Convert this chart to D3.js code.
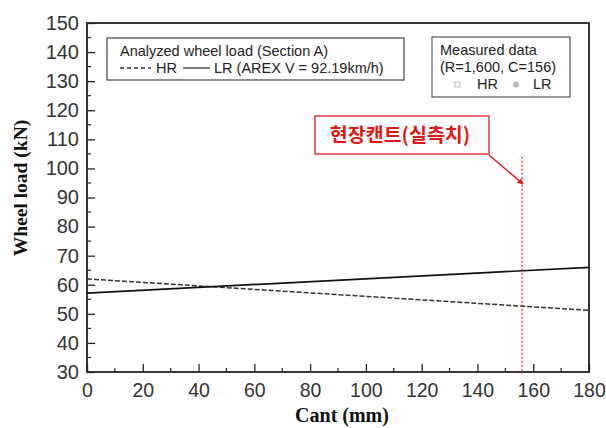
<!DOCTYPE html>
<html>
<head>
<meta charset="utf-8">
<script src="https://cdn.jsdelivr.net/npm/d3@7"></script>
<style>
  body { margin: 0; background: #fff; }
  svg { display: block; }
</style>
</head>
<body>
<div id="chart"></div>
<script>
(function () {
  // 数据
  const cantDomain = [0, 180];
  const loadDomain = [30, 150];
  const xTicks = [0, 20, 40, 60, 80, 100, 120, 140, 160, 180];
  const yTicks = [30, 40, 50, 60, 70, 80, 90, 100, 110, 120, 130, 140, 150];
  const hrCant = [0, 180];
  const hrLoad = [62, 51.2];
  const lrCant = [0, 180];
  const lrLoad = [57.1, 66];
  const fieldCant = 156;

  const width = 606;
  const height = 428;
  const margin = { left: 87, right: 17, top: 23, bottom: 56 };

  const svg = d3.select("#chart")
    .append("svg")
    .attr("width", width)
    .attr("height", height);

  const x = d3.scaleLinear().domain(cantDomain).range([margin.left, width - margin.right]);
  const y = d3.scaleLinear().domain(loadDomain).range([height - margin.bottom, margin.top]);

  const sans = "Liberation Sans, Arial, sans-serif";
  const serif = "Liberation Serif, Times New Roman, serif";

  // 次刻度
  const xMinor = d3.range(10, 180, 20);
  const yMinor = d3.range(35, 150, 10);

  const xAxis = svg.append("g")
    .attr("transform", `translate(0,${y(30)})`)
    .call(d3.axisBottom(x).tickValues(xTicks).tickSizeInner(-8).tickSizeOuter(0).tickPadding(11));
  xAxis.select(".domain").remove();
  xAxis.selectAll("text").style("font-size", "19.5px").style("font-family", sans).style("fill", "#333");
  xAxis.selectAll("line").attr("stroke", "#222").attr("stroke-width", 1.3);

  const yAxis = svg.append("g")
    .attr("transform", `translate(${x(0)},0)`)
    .call(d3.axisLeft(y).tickValues(yTicks).tickSizeInner(-8).tickSizeOuter(0).tickPadding(8));
  yAxis.select(".domain").remove();
  yAxis.selectAll("text").style("font-size", "20px").style("font-family", sans).style("fill", "#333");
  yAxis.selectAll("line").attr("stroke", "#222").attr("stroke-width", 1.3);

  svg.append("g").selectAll("line")
    .data(xMinor).enter().append("line")
    .attr("x1", d => x(d)).attr("x2", d => x(d))
    .attr("y1", y(30)).attr("y2", y(30) - 4)
    .attr("stroke", "#222").attr("stroke-width", 1.2);

  svg.append("g").selectAll("line")
    .data(yMinor).enter().append("line")
    .attr("x1", x(0)).attr("x2", x(0) + 4)
    .attr("y1", d => y(d)).attr("y2", d => y(d))
    .attr("stroke", "#222").attr("stroke-width", 1.2);

  // 边框
  svg.append("rect")
    .attr("x", x(0)).attr("y", y(150))
    .attr("width", x(180) - x(0)).attr("height", y(30) - y(150))
    .attr("fill", "none").attr("stroke", "#222").attr("stroke-width", 1.8);

  const line = d3.line().x(d => x(d[0])).y(d => y(d[1]));

  svg.append("path")
    .datum(d3.zip(hrCant, hrLoad))
    .attr("d", line)
    .attr("fill", "none").attr("stroke", "#333").attr("stroke-width", 1.5)
    .attr("stroke-dasharray", "5,2");

  svg.append("path")
    .datum(d3.zip(lrCant, lrLoad))
    .attr("d", line)
    .attr("fill", "none").attr("stroke", "#111").attr("stroke-width", 1.7);

  // 现场超高线
  svg.append("line")
    .attr("x1", x(fieldCant)).attr("x2", x(fieldCant))
    .attr("y1", y(104)).attr("y2", y(30))
    .attr("stroke", "#e02020").attr("stroke-width", 1.2)
    .attr("stroke-dasharray", "2,2");

  const fs = "14.5px";

  // 图例 1
  svg.append("rect")
    .attr("x", 107).attr("y", 38).attr("width", 297).attr("height", 42)
    .attr("fill", "#fff").attr("stroke", "#444").attr("stroke-width", 1.2);
  svg.append("text")
    .attr("x", 120).attr("y", 56)
    .text("Analyzed wheel load (Section A)")
    .style("font-size", fs).style("font-family", sans).style("fill", "#222");
  svg.append("line")
    .attr("x1", 120).attr("x2", 151).attr("y1", 68).attr("y2", 68)
    .attr("stroke", "#333").attr("stroke-width", 1.3).attr("stroke-dasharray", "4,3");
  svg.append("text")
    .attr("x", 156).attr("y", 73).text("HR")
    .style("font-size", fs).style("font-family", sans).style("fill", "#222");
  svg.append("line")
    .attr("x1", 183).attr("x2", 210).attr("y1", 68).attr("y2", 68)
    .attr("stroke", "#333").attr("stroke-width", 1.3);
  svg.append("text")
    .attr("x", 214).attr("y", 73).text("LR (AREX V = 92.19km/h)")
    .style("font-size", fs).style("font-family", sans).style("fill", "#222");

  // 图例 2
  svg.append("rect")
    .attr("x", 432).attr("y", 37).attr("width", 138).attr("height", 60)
    .attr("fill", "#fff").attr("stroke", "#555").attr("stroke-width", 1.2);
  svg.append("text")
    .attr("x", 440).attr("y", 55).text("Measured data")
    .style("font-size", fs).style("font-family", sans).style("fill", "#222");
  svg.append("text")
    .attr("x", 440).attr("y", 72).text("(R=1,600, C=156)")
    .style("font-size", fs).style("font-family", sans).style("fill", "#222");
  svg.append("rect")
    .attr("x", 455).attr("y", 82).attr("width", 5).attr("height", 5)
    .attr("fill", "#fff").attr("stroke", "#bbb").attr("stroke-width", 1);
  svg.append("text")
    .attr("x", 477).attr("y", 89).text("HR")
    .style("font-size", fs).style("font-family", sans).style("fill", "#222");
  svg.append("circle")
    .attr("cx", 516).attr("cy", 84.5).attr("r", 3)
    .attr("fill", "#bbb");
  svg.append("text")
    .attr("x", 533).attr("y", 89).text("LR")
    .style("font-size", fs).style("font-family", sans).style("fill", "#222");

  // 注释框
  svg.append("rect")
    .attr("x", 315).attr("y", 116).attr("width", 174).attr("height", 38)
    .attr("fill", "#fff").attr("stroke", "#d42020").attr("stroke-width", 1.3);
  svg.append("text")
    .attr("x", 400).attr("y", 142)
    .attr("text-anchor", "middle")
    .text("현장캔트(실측치)")
    .style("font-size", "19.5px").style("font-weight", "bold")
    .style("font-family", "Noto Sans CJK KR, sans-serif").style("fill", "#e01818");

  svg.append("defs").append("marker")
    .attr("id", "arrow")
    .attr("viewBox", "0 0 10 10")
    .attr("refX", 9).attr("refY", 5)
    .attr("markerWidth", 4).attr("markerHeight", 4)
    .attr("orient", "auto")
    .append("path").attr("d", "M0,0L10,5L0,10z").attr("fill", "#e01818");

  svg.append("line")
    .attr("x1", 489).attr("y1", 155)
    .attr("x2", x(fieldCant) + 1).attr("y2", 184)
    .attr("stroke", "#e01818").attr("stroke-width", 1.5)
    .attr("marker-end", "url(#arrow)");

  // 轴标题
  svg.append("text")
    .attr("transform", "translate(27,188) rotate(-90)")
    .attr("text-anchor", "middle")
    .text("Wheel load (kN)")
    .style("font-size", "19.5px").style("font-weight", "bold")
    .style("font-family", serif).style("fill", "#111");

  svg.append("text")
    .attr("x", 342).attr("y", 422)
    .attr("text-anchor", "middle")
    .text("Cant (mm)")
    .style("font-size", "20px").style("font-weight", "bold")
    .style("font-family", serif).style("fill", "#111");
})();
</script>
</body>
</html>
